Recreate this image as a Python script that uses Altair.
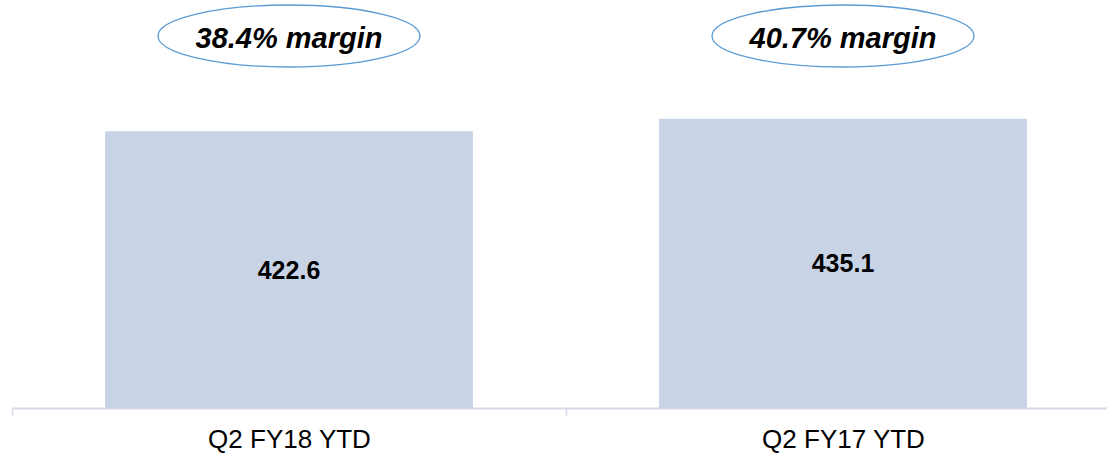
import altair as alt
import pandas as pd

periods = ["Q2 FY18 YTD", "Q2 FY17 YTD"]
values = [422.6, 435.1]
value_labels = ["422.6", "435.1"]
margins = ["38.4% margin", "40.7% margin"]

Y_MIN = 143.6
Y_MAX = 554.9

df = pd.DataFrame({
    "period": periods,
    "value": values,
    "label": value_labels,
    "margin": margins,
})

FONT = "Liberation Sans"
ELLIPSE = "M -1 0 A 1 0.2366 0 1 1 1 0 A 1 0.2366 0 1 1 -1 0 Z"

x = alt.X(
    "period:N",
    sort=periods,
    scale=alt.Scale(range=[0, 1108], paddingInner=0, paddingOuter=0),
    axis=alt.Axis(
        title=None,
        labelAngle=0,
        tickBand="extent",
        domainColor="#D6DAE6",
        domainWidth=2,
        tickColor="#D6DAE6",
        tickWidth=1.5,
        tickSize=8,
        labelFont=FONT,
        labelFontSize=26,
        labelColor="#000000",
        labelBaseline="alphabetic",
        labelPadding=31,
    ),
)

yscale = alt.Scale(domain=[Y_MIN, Y_MAX], zero=False, nice=False)

base = alt.Chart(df)

bars = base.mark_bar(
    color="#C8D4E6", width=alt.RelativeBandSize(0.664)
).encode(
    x=x,
    y=alt.Y("value:Q", scale=yscale, axis=None),
    y2=alt.datum(Y_MIN),
)

labels = base.transform_calculate(
    mid=f"(datum.value + {Y_MIN}) / 2"
).mark_text(
    font=FONT, fontSize=25, fontWeight="bold", color="#000000", baseline="middle", dy=1
).encode(
    x=x,
    y=alt.Y("mid:Q", scale=yscale, axis=None),
    text="label:N",
)

ellipses = base.mark_point(
    shape=ELLIPSE, size=262 * 262, filled=False, stroke="#5B9BD5", strokeWidth=1.3, opacity=1
).encode(
    x=x,
    y=alt.value(36),
)

margin_text = base.mark_text(
    font=FONT, fontSize=29, fontWeight="bold", fontStyle="italic", color="#000000",
    baseline="alphabetic"
).encode(
    x=x,
    y=alt.value(48),
    text="margin:N",
)

chart = alt.layer(bars, labels, ellipses, margin_text).properties(
    width=1095,
    height=408,
    autosize=alt.AutoSizeParams(type="none"),
    padding={"left": 12, "top": 0, "right": 0, "bottom": 47},
    background="white",
).configure_view(stroke=None)

chart.save("out.html", embed_options={"renderer": "svg", "actions": False})
